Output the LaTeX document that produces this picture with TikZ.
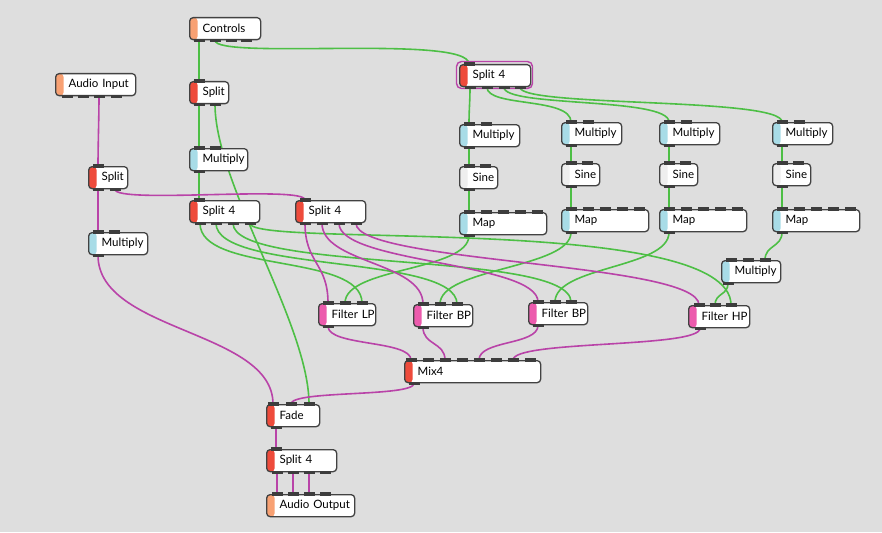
\documentclass[tikz,border=0pt]{standalone}
\usepackage{fontspec}
\newfontfamily\boxfont{Lato}
\pgfdeclarelayer{bg}
\pgfdeclarelayer{cords}
\pgfsetlayers{bg,cords,main}
\definecolor{bgc}{HTML}{DEDEDE}
\definecolor{greenc}{HTML}{4DBF45}
\definecolor{magc}{HTML}{B943A8}
\definecolor{portc}{HTML}{3D3D3D}
\definecolor{borderc}{HTML}{424242}
\definecolor{orangec}{HTML}{F8A173}
\definecolor{redc}{HTML}{EE4B3B}
\definecolor{bluec}{HTML}{A8DCE7}
\definecolor{pinkc}{HTML}{EC5BAD}
\definecolor{sinec}{HTML}{EEEEEE}
\tikzset{
  pbox/.style={draw=borderc, line width=1.3pt, fill=white, rounded corners=3.5pt,
    minimum height=22pt, inner xsep=0pt, inner ysep=0pt, anchor=north west, align=left,
    font=\boxfont\fontsize{11.5}{13}\selectfont},
  stripe/.style={path picture={\fill[#1] (path picture bounding box.south west) rectangle ([xshift=8pt]path picture bounding box.north west);}},
  gcord/.style={draw=greenc, line width=1.6pt},
  mcord/.style={draw=magc, line width=1.6pt},
  selbox/.style={draw=magc, line width=1.4pt, rounded corners=5pt},
}
\newcommand\pnode[6]{%
  \pgfmathsetmacro\tw{#4-26}%
  \node[pbox, stripe=#5, minimum width=#4pt, text width=\tw pt] (#1) at (#2,#3) {\mbox{#6}};}
\newcommand\inports[2]{%
  \foreach \p [count=\k] in {#2} {%
    \coordinate (#1-i\k) at ([xshift=\p pt]#1.north west);
    \fill[portc] ([xshift=\p pt-5.5pt, yshift=1.8pt]#1.north west) rectangle ([xshift=\p pt+5.5pt, yshift=-1.6pt]#1.north west);}}
\newcommand\outports[2]{%
  \foreach \p [count=\k] in {#2} {%
    \coordinate (#1-o\k) at ([xshift=\p pt]#1.south west);
    \fill[portc] ([xshift=\p pt-5.5pt, yshift=-1.8pt]#1.south west) rectangle ([xshift=\p pt+5.5pt, yshift=1.6pt]#1.south west);}}
\newcommand\cord[5]{\draw[#1] (#2) .. controls +(0,#4) and +(0,-#5) .. (#3);}
\begin{document}
\begin{tikzpicture}[x=1pt,y=-1pt]
\begin{pgfonlayer}{bg}
\fill[bgc] (0,0) rectangle (882,532);
\end{pgfonlayer}
\useasboundingbox (0,0) rectangle (882,532);
% nodes
\pnode{ctl}{189}{17}{71}{orangec}{Controls}\outports{ctl}{10,26,42,57}
\pnode{ain}{55}{73}{80}{orangec}{Audio Input}\outports{ain}{12,28,44,61}
\pnode{spl}{189}{81}{39}{redc}{Split}\inports{spl}{10}\outports{spl}{10,26}
\pnode{mula}{189}{148}{58}{bluec}{Multiply}\inports{mula}{10,26}\outports{mula}{10}
\pnode{sau}{88}{166}{39}{redc}{Split}\inports{sau}{10}\outports{sau}{10,27}
\pnode{s4a}{189}{200}{70}{redc}{Split 4}\inports{s4a}{10}\outports{s4a}{11,27,44,61}
\pnode{s4b}{295}{200}{70}{redc}{Split 4}\inports{s4b}{10}\outports{s4b}{10,27,44,61}
\pnode{mau}{88}{232}{59}{bluec}{Multiply}\inports{mau}{10,26}\outports{mau}{10}
\draw[selbox] (456.5,61.5) rectangle (532.5,88.5);
\pnode{s4t}{459}{64}{71}{redc}{Split 4}\inports{s4t}{10}\outports{s4t}{11,28,45,61}
\pnode{m1}{459}{124}{60}{bluec}{Multiply}\inports{m1}{10,27}\outports{m1}{10}
\pnode{m2}{561}{122}{60}{bluec}{Multiply}\inports{m2}{10,27}\outports{m2}{10}
\pnode{m3}{659}{122}{60}{bluec}{Multiply}\inports{m3}{10,27}\outports{m3}{10}
\pnode{m4}{772}{122}{60}{bluec}{Multiply}\inports{m4}{10,27}\outports{m4}{10}
\pnode{sn1}{459}{166}{38}{sinec}{Sine}\inports{sn1}{10,26}\outports{sn1}{10}
\pnode{sn2}{561}{163}{38}{sinec}{Sine}\inports{sn2}{10,26}\outports{sn2}{10}
\pnode{sn3}{659}{163}{38}{sinec}{Sine}\inports{sn3}{10,26}\outports{sn3}{10}
\pnode{sn4}{772}{163}{38}{sinec}{Sine}\inports{sn4}{10,26}\outports{sn4}{10}
\pnode{mp1}{459}{212}{87}{bluec}{Map}\inports{mp1}{10,27,44,61,78}\outports{mp1}{10}
\pnode{mp2}{561}{209}{87}{bluec}{Map}\inports{mp2}{10,27,44,61,78}\outports{mp2}{10}
\pnode{mp3}{659}{209}{87}{bluec}{Map}\inports{mp3}{10,27,44,61,78}\outports{mp3}{10}
\pnode{mp4}{772}{209}{87}{bluec}{Map}\inports{mp4}{10,27,44,61,78}\outports{mp4}{10}
\pnode{mulr}{721}{260}{59}{bluec}{Multiply}\inports{mulr}{10,27,44}\outports{mulr}{7}
\pnode{flp}{318}{303}{57}{pinkc}{Filter LP}\inports{flp}{10,27,44}\outports{flp}{10}
\pnode{fbp}{413}{304}{59}{pinkc}{Filter BP}\inports{fbp}{10,27,44}\outports{fbp}{10}
\pnode{fbq}{528}{302}{59}{pinkc}{Filter BP}\inports{fbq}{10,27,43}\outports{fbq}{10}
\pnode{fhp}{688}{305}{61}{pinkc}{Filter HP}\inports{fhp}{11,27,43}\outports{fhp}{12}
\pnode{mix}{404}{360}{136}{redc}{Mix4}\inports{mix}{7,24,41,58,75,92,109,126}\outports{mix}{10}
\pnode{fade}{266}{404}{53}{redc}{Fade}\inports{fade}{7,25,43}\outports{fade}{10}
\pnode{s4c}{266}{449}{70}{redc}{Split 4}\inports{s4c}{10}\outports{s4c}{11,27,43,59}
\pnode{aout}{266}{494}{88}{orangec}{Audio Output}\inports{aout}{11,27,43,59}
% cords
\begin{pgfonlayer}{cords}
\cord{gcord}{ctl-o1}{spl-i1}{15}{15}
\cord{gcord}{ctl-o2}{s4t-i1}{20}{30}
\cord{gcord}{spl-o1}{mula-i1}{15}{15}
\cord{gcord}{spl-o2}{fade-i3}{80}{80}
\cord{gcord}{mula-o1}{s4a-i1}{10}{10}
\cord{gcord}{s4a-o1}{flp-i3}{50}{50}
\cord{gcord}{s4a-o2}{fbp-i3}{50}{50}
\cord{gcord}{s4a-o3}{fbq-i3}{50}{52}
\cord{gcord}{s4a-o4}{fhp-i3}{25}{92}
\cord{gcord}{s4t-o1}{m1-i1}{15}{15}
\cord{gcord}{s4t-o2}{m2-i1}{20}{25}
\cord{gcord}{s4t-o3}{m3-i1}{20}{25}
\cord{gcord}{s4t-o4}{m4-i1}{20}{25}
\cord{gcord}{m1-o1}{sn1-i1}{10}{10}
\cord{gcord}{m2-o1}{sn2-i1}{10}{10}
\cord{gcord}{m3-o1}{sn3-i1}{10}{10}
\cord{gcord}{m4-o1}{sn4-i1}{10}{10}
\cord{gcord}{sn1-o1}{mp1-i1}{10}{10}
\cord{gcord}{sn2-o1}{mp2-i1}{10}{10}
\cord{gcord}{sn3-o1}{mp3-i1}{10}{10}
\cord{gcord}{sn4-o1}{mp4-i1}{10}{10}
\cord{gcord}{mp1-o1}{flp-i2}{36}{36}
\cord{gcord}{mp2-o1}{fbp-i2}{36}{36}
\cord{gcord}{mp3-o1}{fbq-i2}{36}{36}
\cord{gcord}{mp4-o1}{mulr-i3}{15}{15}
\cord{gcord}{mulr-o1}{fhp-i2}{12}{12}
\cord{mcord}{ain-o3}{sau-i1}{20}{20}
\cord{mcord}{sau-o1}{mau-i1}{15}{15}
\cord{mcord}{sau-o2}{s4b-i1}{15}{15}
\cord{mcord}{mau-o1}{fade-i1}{77}{74}
\cord{mcord}{s4b-o1}{flp-i1}{40}{40}
\cord{mcord}{s4b-o2}{fbp-i1}{40}{42}
\cord{mcord}{s4b-o3}{fbq-i1}{40}{40}
\cord{mcord}{s4b-o4}{fhp-i1}{40}{43}
\cord{mcord}{flp-o1}{mix-i1}{20}{20}
\cord{mcord}{fbp-o1}{mix-i3}{18}{18}
\cord{mcord}{fbq-o1}{mix-i5}{20}{20}
\cord{mcord}{fhp-o1}{mix-i7}{20}{20}
\cord{mcord}{mix-o1}{fade-i2}{14}{14}
\cord{mcord}{fade-o1}{s4c-i1}{10}{10}
\cord{mcord}{s4c-o1}{aout-i1}{10}{10}
\cord{mcord}{s4c-o2}{aout-i2}{10}{10}
\cord{mcord}{s4c-o3}{aout-i3}{10}{10}
\end{pgfonlayer}
\end{tikzpicture}
\end{document}
